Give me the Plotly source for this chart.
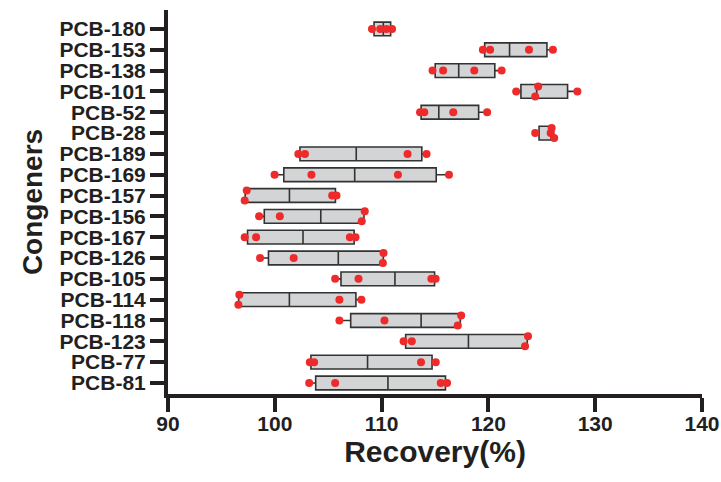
import numpy as np
import plotly.graph_objects as go

# Congeners from bottom to top
congeners = ["PCB-81", "PCB-77", "PCB-123", "PCB-118", "PCB-114", "PCB-105",
             "PCB-126", "PCB-167", "PCB-156", "PCB-157", "PCB-169", "PCB-189",
             "PCB-28", "PCB-52", "PCB-101", "PCB-138", "PCB-153", "PCB-180"]

# Recovery (%) replicates for each congener (same order)
recovery = [
    [103.22, 105.65, 115.54, 116.13],   # PCB-81
    [103.28, 103.68, 113.69, 115.07],   # PCB-77
    [112.06, 112.83, 123.43, 123.71],   # PCB-123
    [106.05, 110.27, 117.13, 117.45],   # PCB-118
    [96.59, 96.68, 106.05, 108.11],     # PCB-114
    [105.65, 107.84, 114.66, 115.06],   # PCB-105
    [98.62, 101.77, 110.12, 110.18],    # PCB-126
    [97.18, 98.25, 107.03, 107.56],     # PCB-167
    [98.53, 100.47, 108.14, 108.42],    # PCB-156
    [97.18, 97.37, 105.37, 105.78],     # PCB-157
    [99.98, 103.43, 111.53, 116.31],    # PCB-169
    [102.20, 102.82, 112.43, 114.21],   # PCB-189
    [124.38, 125.83, 125.92, 126.16],   # PCB-28
    [113.60, 114.00, 116.71, 119.88],   # PCB-52
    [122.60, 124.38, 124.66, 128.33],   # PCB-101
    [114.77, 115.76, 118.68, 121.24],   # PCB-138
    [119.48, 120.16, 123.80, 126.04],   # PCB-153
    [109.10, 109.87, 110.45, 110.98],   # PCB-180
]

x_ticks = [90, 100, 110, 120, 130, 140]

TXT = "#231f20"
FONT = "Liberation Sans, Arial, sans-serif"

fig = go.Figure()

# Boxes (quartiles computed from the data, n+1 method)
for i, (name, vals) in enumerate(zip(congeners, recovery)):
    v = np.array(vals, dtype=float)
    q1, med, q3 = np.quantile(v, [0.25, 0.5, 0.75], method="weibull")
    fig.add_trace(go.Box(
        y=[i], q1=[q1], median=[med], q3=[q3],
        lowerfence=[v.min()], upperfence=[v.max()],
        orientation="h", width=0.66, whiskerwidth=0,
        fillcolor="#d3d4d6", line=dict(color="#333333", width=1.6),
        boxpoints=False, showlegend=False, hoverinfo="skip",
    ))

# Points, spread vertically when they overlap
SPREAD = 0.24
THR = 0.35
px, py = [], []
for i, vals in enumerate(recovery):
    s = sorted(vals)
    clusters = [[s[0]]]
    for val in s[1:]:
        if val - clusters[-1][-1] < THR:
            clusters[-1].append(val)
        else:
            clusters.append([val])
    for c in clusters:
        if len(c) == 1:
            offs = [0]
        elif len(c) == 2:
            offs = [-SPREAD, SPREAD]
        else:
            offs = [0, SPREAD, -SPREAD] + [0] * (len(c) - 3)
        for val, o in zip(c, offs):
            px.append(val)
            py.append(i + o)

fig.add_trace(go.Scatter(
    x=px, y=py, mode="markers",
    marker=dict(color="#ee2a2a", size=8, line=dict(width=0)),
    showlegend=False, hoverinfo="skip",
))

fig.update_layout(
    width=721, height=482,
    margin=dict(l=168, r=19, t=10, b=88),
    plot_bgcolor="white", paper_bgcolor="white",
    font=dict(family=FONT, color=TXT),
)
fig.update_xaxes(
    range=[90, 140], tickvals=x_ticks, ticktext=[str(t) for t in x_ticks],
    showline=True, linewidth=4, linecolor=TXT, ticks="outside",
    ticklen=14, tickwidth=3.5, tickcolor=TXT, showgrid=False, zeroline=False,
    ticklabeloverflow="allow", ticklabelstandoff=-6, automargin=False,
    tickfont=dict(family=FONT, size=21, weight="bold", color=TXT),
    title=dict(text="Recovery(%)", standoff=2,
               font=dict(family=FONT, size=30, weight="bold", color=TXT)),
)
fig.update_yaxes(
    range=[-0.53, 17.91], tickvals=list(range(len(congeners))), ticktext=congeners,
    showline=True, linewidth=4, linecolor=TXT, ticks="outside",
    ticklen=14, tickwidth=3.5, tickcolor=TXT, showgrid=False, zeroline=False,
    automargin=False,
    tickfont=dict(family=FONT, size=21, weight="bold", color=TXT),
    title=dict(text="Congeners", standoff=10,
               font=dict(family=FONT, size=28, weight="bold", color=TXT)),
)

fig.write_html("out.html")
